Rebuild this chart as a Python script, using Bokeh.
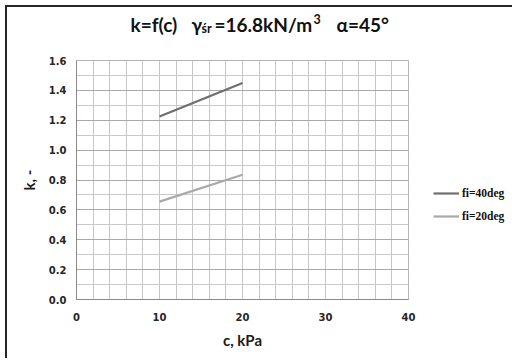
from bokeh.plotting import figure
from bokeh.layouts import column
from bokeh.models import (Label, Legend, LegendItem, SingleIntervalTicker,
                          NumeralTickFormatter, Range1d, InlineStyleSheet)
from bokeh.embed import file_html
from bokeh.resources import INLINE

# ---- data ----
c_kpa = [10, 20]
k_fi40 = [1.225, 1.45]
k_fi20 = [0.655, 0.835]
series_labels = ["fi=40deg", "fi=20deg"]
series_colors = ["#6f6f6f", "#a9a9a9"]
x_label = "c, kPa"
y_label = "k, -"
title_parts = ["k=f(c)", "\u03b3", "\u015br", "=16.8kN/m", "3", "\u03b1=45\u00b0"]

# ---- layout (window px; canvas starts at the window corner) ----
TOTAL_W, TOTAL_H = 510, 358
TITLE_H = 52
FL, FR, FT, FB = 76, 408, 60, 299   # plot frame edges in window
X0, X1, Y0, Y1 = 0, 40, 0, 1.6

# outer chart border on the left and top only (inset shadows under transparent borders)
css = InlineStyleSheet(css=":host { box-shadow: inset 5px 5px 0 0 #ffffff, "
                           "inset 7px 7px 0 0 #262626; }")

# ---- title strip (its own small svg figure, frame aligned with main frame) ----
t = figure(frame_width=FR - FL, frame_height=TITLE_H,
           x_range=Range1d(0, FR - FL), y_range=Range1d(0, TITLE_H),
           x_axis_type=None, y_axis_type=None, output_backend="svg", toolbar_location=None,
           min_border_left=FL, min_border_right=TOTAL_W - FR,
           min_border_top=0, min_border_bottom=0, outline_line_color=None)
t.background_fill_alpha = 0
t.border_fill_alpha = 0
# (window x start, baseline parameter y, font size)
title_pos = [(130, 24, "19px"), (191, 24, "19px"), (201, 28, "12.5px"),
             (214, 24, "19px"), (313, 18, "12.5px"), (336, 24, "19px")]
for txt, (wx, wy, fs) in zip(title_parts, title_pos):
    t.add_layout(Label(x=wx - FL, y=TITLE_H - wy, text=txt, text_font="Lato",
                       text_font_style="bold", text_font_size=fs,
                       text_baseline="alphabetic", text_align="left", text_color="#111111"))

# ---- main chart ----
main_h = TOTAL_H - TITLE_H
p = figure(frame_width=FR - FL, frame_height=FB - FT,
           x_range=Range1d(X0, X1), y_range=Range1d(Y0, Y1),
           output_backend="svg", toolbar_location=None,
           min_border_left=FL, min_border_right=TOTAL_W - FR,
           min_border_top=FT - TITLE_H, min_border_bottom=main_h - (FB - TITLE_H))
p.background_fill_color = "white"
p.border_fill_alpha = 0
p.outline_line_color = "#b4b4b4"

p.xaxis.ticker = SingleIntervalTicker(interval=10, num_minor_ticks=5)
p.yaxis.ticker = SingleIntervalTicker(interval=0.2, num_minor_ticks=2)
p.yaxis.formatter = NumeralTickFormatter(format="0.0")
for ax in (p.xaxis, p.yaxis):
    ax.major_tick_in = 0
    ax.major_tick_out = 0
    ax.minor_tick_in = 0
    ax.minor_tick_out = 0
    ax.axis_line_color = "#8a8a8a"
    ax.major_label_text_font = "DejaVu Sans"
    ax.major_label_text_font_style = "bold"
    ax.major_label_text_font_size = "10px"
    ax.major_label_text_color = "#262626"
    ax.axis_label_text_font = "Lato"
    ax.axis_label_text_font_style = "bold"
    ax.axis_label_text_font_size = "15px"
    ax.axis_label_text_color = "#1a1a1a"
p.xaxis.axis_label = x_label
p.yaxis.axis_label = y_label
p.xaxis.major_label_standoff = 13
p.yaxis.major_label_standoff = 10
p.xaxis.axis_label_standoff = 7
p.yaxis.axis_label_standoff = 8

p.xgrid.grid_line_color = "#c6c6c6"
p.xgrid.minor_grid_line_color = "#c6c6c6"
p.ygrid.grid_line_color = "#a8a8a8"
p.ygrid.minor_grid_line_color = "#cacaca"

r40 = p.line(c_kpa, k_fi40, line_color=series_colors[0], line_width=2.2)
r20 = p.line(c_kpa, k_fi20, line_color=series_colors[1], line_width=2.2)

legend = Legend(items=[LegendItem(label=series_labels[0], renderers=[r40]),
                       LegendItem(label=series_labels[1], renderers=[r20])],
                location=(433 - FR, FB - 226), padding=0, margin=0, spacing=3,
                glyph_width=26, glyph_height=20, label_height=20, label_standoff=3,
                label_text_font="Liberation Serif", label_text_font_style="bold",
                label_text_font_size="11.5px", label_text_color="#111111",
                border_line_color=None, background_fill_alpha=0)
p.add_layout(legend, "right")

layout = column(t, p, spacing=0, stylesheets=[css])
open("out.html", "w").write(file_html(layout, INLINE))
